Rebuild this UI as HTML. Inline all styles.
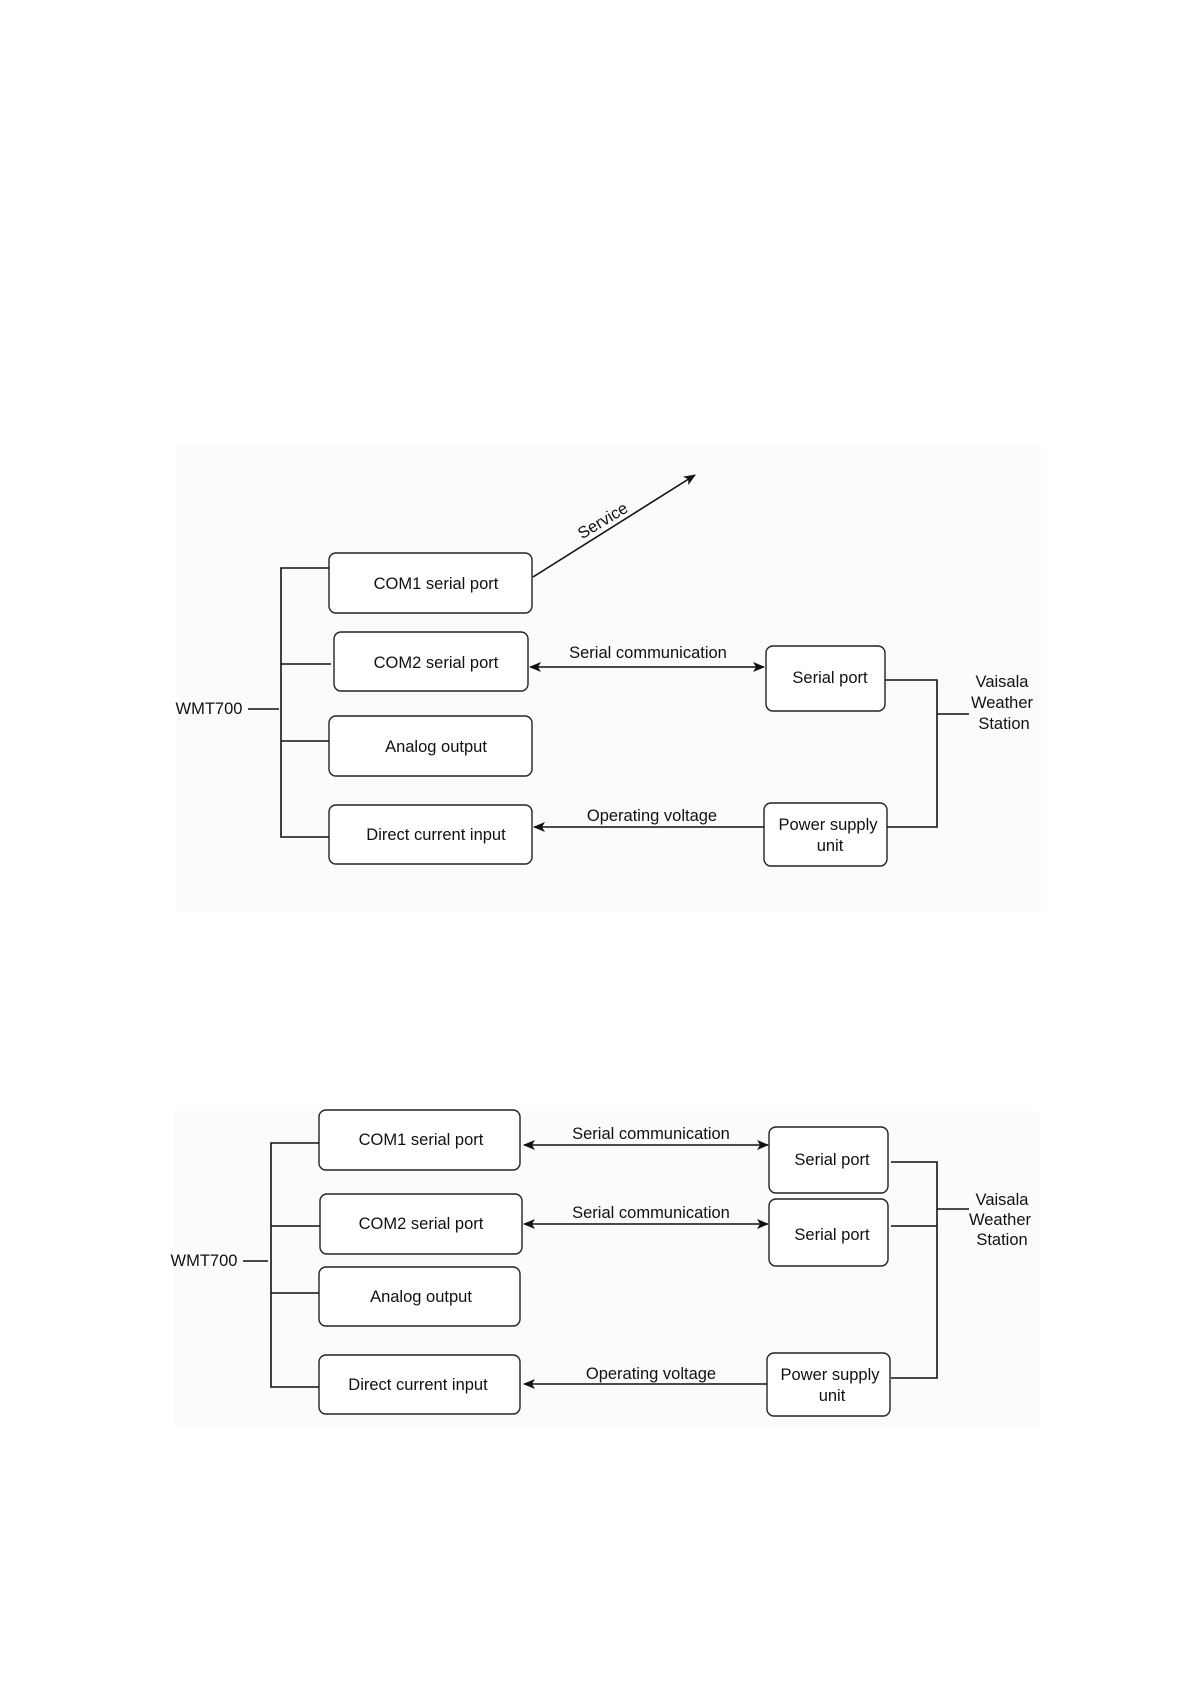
<!DOCTYPE html>
<html><head><meta charset="utf-8"><style>
html,body{margin:0;padding:0;background:#fff}
svg{display:block}
text{font-family:"Liberation Sans",Arial,sans-serif;font-size:16.5px;fill:#111}
</style></head><body>
<svg width="1191" height="1684" viewBox="0 0 1191 1684" xmlns="http://www.w3.org/2000/svg">
<defs>
<marker id="a" markerWidth="12" markerHeight="10" refX="11" refY="5" orient="auto-start-reverse" markerUnits="userSpaceOnUse">
<path d="M0,0 L12,5 L0,10 L3,5 Z" fill="#111"/></marker>
</defs>
<rect x="177" y="445" width="864" height="467" fill="#fbfbfb"/>
<rect x="174" y="1111" width="865" height="316" fill="#fbfbfb"/>
<g fill="#fff" stroke="#222" stroke-width="1.4">
<rect x="329" y="553" width="203" height="60" rx="7"/>
<rect x="334" y="632" width="194" height="59" rx="7"/>
<rect x="329" y="716" width="203" height="60" rx="7"/>
<rect x="329" y="805" width="203" height="59" rx="7"/>
<rect x="766" y="646" width="119" height="65" rx="7"/>
<rect x="764" y="803" width="123" height="63" rx="7"/>
<rect x="319" y="1110" width="201" height="60" rx="7"/>
<rect x="320" y="1194" width="202" height="60" rx="7"/>
<rect x="319" y="1267" width="201" height="59" rx="7"/>
<rect x="319" y="1355" width="201" height="59" rx="7"/>
<rect x="769" y="1127" width="119" height="66" rx="7"/>
<rect x="769" y="1199" width="119" height="67" rx="7"/>
<rect x="767" y="1353" width="123" height="63" rx="7"/>
</g>
<g fill="none" stroke="#111" stroke-width="1.6">
<path d="M329,568 H281 V837 H329 M281,664 H331 M281,741 H329 M248,709 H279"/>
<path d="M533,577 L695,475" marker-end="url(#a)"/>
<path d="M530,667 H764" marker-start="url(#a)" marker-end="url(#a)"/>
<path d="M764,827 H534" marker-end="url(#a)"/>
<path d="M885,680 H937 V827 H887 M937,714 H969"/>
<path d="M319,1143 H271 V1387 H319 M271,1226 H320 M271,1293 H319 M243,1261 H268"/>
<path d="M524,1145 H768" marker-start="url(#a)" marker-end="url(#a)"/>
<path d="M524,1224 H768" marker-start="url(#a)" marker-end="url(#a)"/>
<path d="M767,1384 H524" marker-end="url(#a)"/>
<path d="M891,1162 H937 V1378 H891 M891,1226 H937 M937,1209 H969"/>
</g>
<g text-anchor="middle" dominant-baseline="central">
<text x="436" y="584">COM1 serial port</text>
<text x="436" y="663">COM2 serial port</text>
<text x="436" y="747">Analog output</text>
<text x="436" y="835">Direct current input</text>
<text x="830" y="678">Serial port</text>
<text x="828" y="825">Power supply</text>
<text x="830" y="846">unit</text>
<text x="209" y="709">WMT700</text>
<text x="648" y="653">Serial communication</text>
<text x="652" y="816">Operating voltage</text>
<text x="1002" y="682">Vaisala</text>
<text x="1002" y="703">Weather</text>
<text x="1004" y="724">Station</text>
<text x="603" y="521" transform="rotate(-31 603 521)">Service</text>
<text x="421" y="1140">COM1 serial port</text>
<text x="421" y="1224">COM2 serial port</text>
<text x="421" y="1297">Analog output</text>
<text x="418" y="1385">Direct current input</text>
<text x="832" y="1160">Serial port</text>
<text x="832" y="1235">Serial port</text>
<text x="830" y="1375">Power supply</text>
<text x="832" y="1396">unit</text>
<text x="204" y="1261">WMT700</text>
<text x="651" y="1134">Serial communication</text>
<text x="651" y="1213">Serial communication</text>
<text x="651" y="1374">Operating voltage</text>
<text x="1002" y="1200">Vaisala</text>
<text x="1000" y="1220">Weather</text>
<text x="1002" y="1240">Station</text>
</g>
</svg>
</body></html>
